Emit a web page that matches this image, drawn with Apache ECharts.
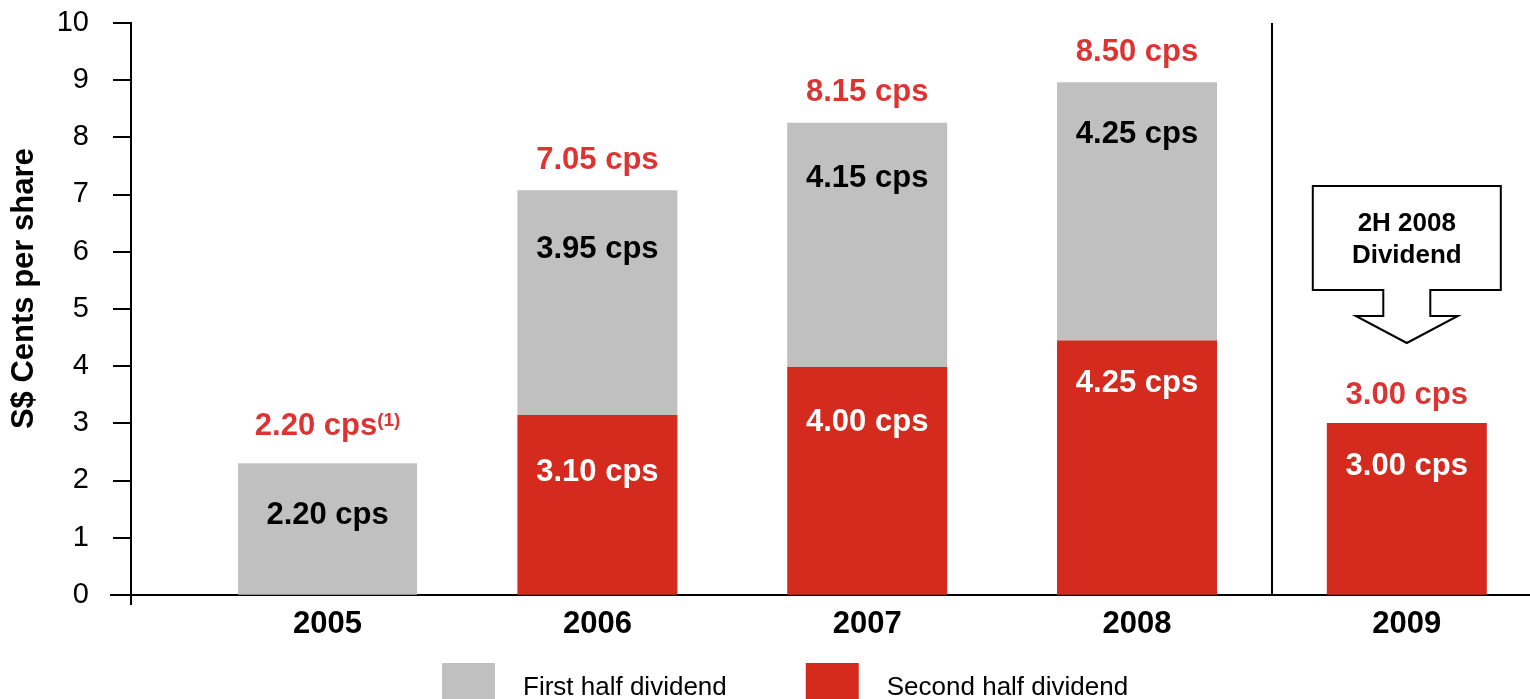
<!DOCTYPE html>
<html><head><meta charset="utf-8">
<script src="https://cdn.jsdelivr.net/npm/echarts@6/dist/echarts.min.js"></script>
<style>html,body{margin:0;padding:0;background:#fff}#c{width:1530px;height:699px}</style>
</head><body><div id="c"></div>
<script>
// ---- data ----
const categories = ['2005', '2006', '2007', '2008', '2009'];
const firstHalf = [2.30, 3.93, 4.27, 4.51, null];      // grey segment heights as drawn
const secondHalf = [null, 3.14, 3.98, 4.45, 3.00];     // red segment heights as drawn
const firstHalfText = ['2.20 cps', '3.95 cps', '4.15 cps', '4.25 cps', null];
const secondHalfText = [null, '3.10 cps', '4.00 cps', '4.25 cps', '3.00 cps'];
const totalText = ['2.20 cps', '7.05 cps', '8.15 cps', '8.50 cps', '3.00 cps'];
const totalNote = ['(1)', '', '', '', ''];
const separatorBefore = '2009';
const calloutText = '2H 2008\nDividend';

// ---- layout / style ----
const FONT = "'Liberation Sans', Arial, sans-serif";
const RED = '#d52b1f', GREY = '#c0c0c0', RED_TEXT = '#d40000';
const GRID = { left: 192.7, width: 1349, top: 22.7, bottom: 104.3, outerBoundsMode: 'none', containLabel: false };
const Y_AXIS_X = 131;
const wideIdx = [0];
const firstLabelDist = [37, 44, 40, 37, 0];
const secondLabelDist = [0, 42, 40, 28, 28];
const totalLabelDist = [21, 14, 15, 14, 12];

const totals = categories.map((_, i) => (firstHalf[i] || 0) + (secondHalf[i] || 0));

function items(values, dists, include) {
  return values.map((v, i) => (include(i) && v != null) ? { value: v, label: { distance: dists[i] } } : null);
}
const isWide = i => wideIdx.indexOf(i) >= 0;
const notWide = i => !isWide(i);

const innerLabel = (texts, color) => ({
  show: true, position: 'insideTop',
  fontFamily: FONT, fontSize: 31, fontWeight: 'bold', color: color,
  formatter: p => texts[p.dataIndex] || ''
});

const chart = echarts.init(document.getElementById('c'));
chart.setOption({
  animation: false,
  backgroundColor: '#fff',
  grid: GRID,
  legend: {
    data: ['First half dividend', 'Second half dividend'],
    left: 437, top: 658, itemWidth: 53, itemHeight: 50, itemGap: 79,
    icon: 'rect', selectedMode: false,
    textStyle: { fontFamily: FONT, fontSize: 26, color: '#000', padding: [0, 0, 0, 23] }
  },
  xAxis: [{
    type: 'category', data: categories,
    axisLine: { lineStyle: { color: '#000', width: 2 } },
    axisTick: { show: false },
    axisLabel: { fontFamily: FONT, fontSize: 31, fontWeight: 'bold', color: '#000', margin: 14 },
    splitLine: { show: false }
  }, {
    type: 'category', data: categories, show: false
  }],
  yAxis: {
    type: 'value', min: 0, max: 10, interval: 1,
    offset: GRID.left - Y_AXIS_X,
    name: 'S$ Cents per share', nameLocation: 'middle', nameGap: 91,
    nameTextStyle: { fontFamily: FONT, fontSize: 31, fontWeight: 'bold', color: '#000', padding: [0, 0, 0, 40] },
    axisLine: { show: true, lineStyle: { color: '#000', width: 2 } },
    axisTick: { show: true, length: 18, lineStyle: { color: '#000', width: 2 } },
    axisLabel: { fontFamily: FONT, fontSize: 29, color: '#000', margin: 42 },
    splitLine: { show: false }
  },
  series: [
    {
      name: 'Second half dividend', type: 'bar', xAxisIndex: 0, stack: 'b', barWidth: 160,
      itemStyle: { color: RED },
      data: items(secondHalf, secondLabelDist, notWide),
      label: innerLabel(secondHalfText, '#fff')
    },
    {
      name: 'First half dividend', type: 'bar', xAxisIndex: 0, stack: 'b', barWidth: 160,
      itemStyle: { color: GREY },
      data: items(firstHalf, firstLabelDist, notWide),
      label: innerLabel(firstHalfText, '#000')
    },
    {
      name: 'First half dividend', type: 'bar', xAxisIndex: 1, stack: 'a', barWidth: 179,
      itemStyle: { color: GREY },
      data: items(firstHalf, firstLabelDist, isWide),
      label: innerLabel(firstHalfText, '#000')
    },
    {
      name: 'Total', type: 'scatter', xAxisIndex: 0, symbolSize: 0, silent: true, z: 5,
      data: totals.map((v, i) => ({ value: v, label: { distance: totalLabelDist[i] } })),
      label: {
        show: true, position: 'top',
        formatter: p => '{m|' + totalText[p.dataIndex] + '}' + (totalNote[p.dataIndex] ? '{s|' + totalNote[p.dataIndex] + '}' : ''),
        rich: {
          m: { fontFamily: FONT, fontSize: 31, fontWeight: 'bold', color: RED_TEXT },
          s: { fontFamily: FONT, fontSize: 19, fontWeight: 'bold', color: RED_TEXT, verticalAlign: 'top' }
        }
      }
    }
  ]
});

const baseY = Math.round(chart.convertToPixel({ yAxisIndex: 0 }, 0));
const topY = Math.round(chart.convertToPixel({ yAxisIndex: 0 }, 10));
const sepIdx = categories.indexOf(separatorBefore);
const cx = chart.convertToPixel({ xAxisIndex: 0 }, separatorBefore);
const cxPrev = chart.convertToPixel({ xAxisIndex: 0 }, categories[sepIdx - 1]);
const sepX = Math.round((cx + cxPrev) / 2);
chart.setOption({
  graphic: [
    { type: 'line', shape: { x1: 110, y1: baseY, x2: Math.round(GRID.left) + 1, y2: baseY }, style: { stroke: '#000', lineWidth: 2 }, z: 10 },
    { type: 'line', shape: { x1: Y_AXIS_X, y1: baseY, x2: Y_AXIS_X, y2: baseY + 10 }, style: { stroke: '#000', lineWidth: 2 }, z: 10 },
    { type: 'line', shape: { x1: sepX, y1: topY, x2: sepX, y2: baseY }, style: { stroke: '#000', lineWidth: 2 }, z: 10 },
    {
      type: 'polygon', z: 10,
      shape: { points: [[cx - 94, 186], [cx + 94, 186], [cx + 94, 290], [cx + 23.5, 290], [cx + 23.5, 316], [cx + 51, 316], [cx, 343], [cx - 51, 316], [cx - 23.5, 316], [cx - 23.5, 290], [cx - 94, 290]] },
      style: { fill: '#fff', stroke: '#000', lineWidth: 2 }
    },
    {
      type: 'text', z: 11, x: cx, y: 240,
      style: { text: calloutText, fontFamily: FONT, fontSize: 26, fontWeight: 'bold', fill: '#000', align: 'center', verticalAlign: 'middle', lineHeight: 32 }
    }
  ]
});
</script>
</body></html>
